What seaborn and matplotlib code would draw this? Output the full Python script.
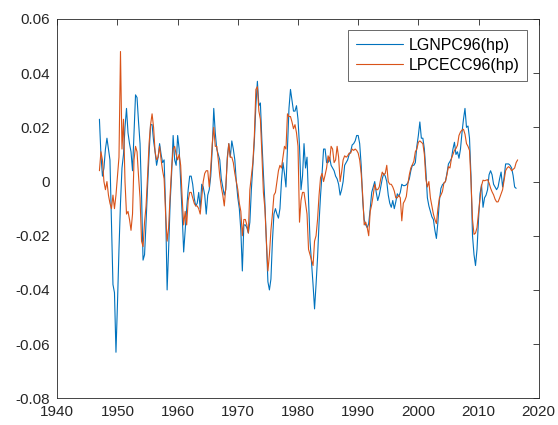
import numpy as np
import pandas as pd
import matplotlib
matplotlib.use("Agg")
import matplotlib.pyplot as plt
import seaborn as sns

# ---------------- data (quarterly, starting 1947Q1, values x 1e-3) ----------------
start_year = 1947
series_names = ["LGNPC96(hp)", "LPCECC96(hp)"]

lgnpc96_hp = [
    23, 10, 2, 5,            # 1947
    12, 16, 12, 8,           # 1948
    -15, -38, -41, -63,      # 1949
    -45, -25, -8, 5,         # 1950
    10, 20, 27, 18,          # 1951
    14, 11, 4, 18,           # 1952
    32, 31, 22, 14,          # 1953
    -5, -29, -27, -15,       # 1954
    -2, 10, 21, 21,          # 1955
    15, 11, 6, 9,            # 1956
    14, 10, 7, 8,            # 1957
    -10, -40, -25, -8,       # 1958
    3, 17, 8, 6,             # 1959
    17, 12, 0, -12,          # 1960
    -26, -18, -10, -3,       # 1961
    2, 2, -1, -6,            # 1962
    -9, -8, -4, -10,         # 1963
    -1, -2, -5, -12,         # 1964
    -5, -3, 2, 12,           # 1965
    27, 18, 12, 10,          # 1966
    8, 1, -2, -5,            # 1967
    -3, 9, 14, 9,            # 1968
    15, 12, 8, 0,            # 1969
    -6, -10, -18, -33,       # 1970
    -16, -16, -17, -19,      # 1971
    -15, -3, 6, 15,          # 1972
    28, 37, 28, 29,          # 1973
    15, 3, -8, -22,          # 1974
    -37, -40, -36, -22,      # 1975
    -12, -10, -12, -13.5,    # 1976
    -10, 0, 7, 3,            # 1977
    -2, 13, 27, 34,          # 1978
    30, 26, 26, 28,          # 1979
    23, 13, -3, 2,           # 1980
    14, 5, 9, -6,            # 1981
    -22, -30, -38, -47,      # 1982
    -38, -28, -15, -5,       # 1983
    3, 12, 12, 7,            # 1984
    7, 9, 6, 5,              # 1985
    4, 2, 1, -1,             # 1986
    -5, -3, 0, 6,            # 1987
    7, 8, 10, 11,            # 1988
    13.5, 14, 15, 17,        # 1989
    17, 14, 6, -7,           # 1990
    -14, -16, -17, -15.5,    # 1991
    -10, -4, -2, 0,          # 1992
    -4, -7, -5, -2,          # 1993
    1, 3, 2, 0,              # 1994
    -5, -8, -9.5, -7,        # 1995
    -10, -7.5, -4.5, -5.5,   # 1996
    -4, -1, -1.5, -1.5,      # 1997
    -1.2, -0.5, 1, 4,        # 1998
    6, 6, 7, 13,             # 1999
    17, 22, 16, 16,          # 2000
    12, 4, -6, -9,           # 2001
    -11, -13, -14, -18,      # 2002
    -21, -15, -7, -2.5,      # 2003
    -1.2, -0.6, 0, 3,        # 2004
    6.5, 7.4, 8.5, 12,       # 2005
    14.5, 10, 11, 8.6,       # 2006
    12, 18, 23, 27,          # 2007
    20, 20.5, 16, 2,         # 2008
    -20, -27, -31, -25,      # 2009
    -14, -4.5, -1.2, -9.5,   # 2010
    -6, -5, -3, 2.5,         # 2011
    4, 2.5, -1, -2,          # 2012
    -3, -2, 1, 3.5,          # 2013
    -2, 1.5, 6.5, 6.5,       # 2014
    6.5, 6, 5, 2.2,          # 2015
    -2, -2.5,                # 2016
]

lpcecc96_hp = [
    4, 11, 8, 0,             # 1947
    -3, 0, -5, -8,           # 1948
    -10, -5, -10, -5,        # 1949
    2, 9, 48, 12,            # 1950
    23, 0, -12, -11,         # 1951
    -14, -18, -12, 8,        # 1952
    13, 11, 2, -6,           # 1953
    -22, -24, -15, -9,       # 1954
    2, 14, 21, 25,           # 1955
    20, 11, 8, 9,            # 1956
    13, 8, 4, 1,             # 1957
    -12, -22, -17, -5,       # 1958
    5, 12, 13, 10,           # 1959
    8, 10, 6, -6,            # 1960
    -16, -11, -16, -7,       # 1961
    -4, -4, -6, -8,          # 1962
    -9, -9, -10, -12,        # 1963
    -6, 0, 3, 4,             # 1964
    4, -2, 5, 14,            # 1965
    20, 13, 13, 8,           # 1966
    2, -2, -5, -9,           # 1967
    -2, 8, 14, 9,            # 1968
    9, 7, 3, 0,              # 1969
    -3, -8, -11, -20,        # 1970
    -14, -14, -16, -19,      # 1971
    -3, 2, 7, 17,            # 1972
    34, 35, 26, 23,          # 1973
    10, -4, -10, -22,        # 1974
    -33, -27, -18, -12,      # 1975
    -5, -4, 0, 4,            # 1976
    6, 5, 9, 13,             # 1977
    12, 25, 24, 24,          # 1978
    22, 19.5, 21, 18,        # 1979
    13, -15, -7, -4,         # 1980
    -4, -8, -12, -25,        # 1981
    -27, -29, -31, -22,      # 1982
    -20, -14, -5, 1.5,       # 1983
    3, 0, 2.4, 5,            # 1984
    9.5, 7.5, 13, 12,        # 1985
    7, 8, 13, 9,             # 1986
    0, 3.5, 8, 9.5,          # 1987
    9, 9.5, 10.5, 10.5,      # 1988
    12, 11.5, 12, 11.5,      # 1989
    10.5, 8, 3, -5,          # 1990
    -16, -15, -17, -20,      # 1991
    -11, -8.5, -5, -1,       # 1992
    -3, -3, -2, 1,           # 1993
    3.5, 2.4, 3, 6,          # 1994
    0, -1, -1, -2,           # 1995
    -3.5, -6, -6, -5,        # 1996
    -6, -14.5, -8, -7,       # 1997
    -5.5, -1, 2.5, 5,        # 1998
    6.2, 7.5, 11, 12,        # 1999
    14.5, 15, 14.5, 14,      # 2000
    10, 1, -2, 0,            # 2001
    -6, -9, -12, -14,        # 2002
    -15.5, -10, -6, -5,      # 2003
    -3.7, -0.5, 0, 2.5,      # 2004
    5.5, 5, 8.5, 10,         # 2005
    11.5, 12.2, 13.4, 17,    # 2006
    18.3, 19, 19.3, 17.5,    # 2007
    14, 13, 11.5, 0,         # 2008
    -14, -19.5, -19, -17,    # 2009
    -11.5, -6.5, -1.5, 0.5,  # 2010
    0.3, 0.5, 0.7, -0.5,     # 2011
    -2.4, -3.8, -4.9, -6.5,  # 2012
    -7.5, -7.5, -6.1, -4.5,  # 2013
    -3, 0.5, 4, 5,           # 2014
    5.5, 5, 4, 4.5,          # 2015
    5, 7, 8,                 # 2016
]

x_ticks = [1940, 1950, 1960, 1970, 1980, 1990, 2000, 2010, 2020]
y_ticks = [-0.08, -0.06, -0.04, -0.02, 0, 0.02, 0.04, 0.06]
y_tick_labels = ["-0.08", "-0.06", "-0.04", "-0.02", "0", "0.02", "0.04", "0.06"]
line_colors = ["#0072BD", "#D95319"]

# ---------------- build long table ----------------
frames = []
for name, vals in zip(series_names, [lgnpc96_hp, lpcecc96_hp]):
    v = np.asarray(vals, dtype=float) / 1000.0
    t = start_year + np.arange(len(v)) / 4.0
    frames.append(pd.DataFrame({"date": t, "value": v, "series": name}))
df = pd.concat(frames, ignore_index=True)

# ---------------- style ----------------
sns.set_theme(style="white")
plt.rcParams["font.family"] = ["Liberation Sans", "DejaVu Sans"]
plt.rcParams["axes.unicode_minus"] = False

axis_col = "#262626"
fig = plt.figure(figsize=(5.58, 4.25), dpi=100)
ax = fig.add_axes([57.3 / 558, 1 - 398.3 / 425, (538.7 - 57.3) / 558, (398.3 - 19) / 425])

sns.lineplot(data=df, x="date", y="value", hue="series", palette=line_colors,
             linewidth=0.8, estimator=None, sort=False, legend=False, ax=ax)

ax.set_xlim(1940, 2020)
ax.set_ylim(-0.08, 0.06)
ax.set_xticks(x_ticks)
ax.set_xticklabels([str(x) for x in x_ticks])
ax.set_yticks(y_ticks)
ax.set_yticklabels(y_tick_labels)
ax.set_xlabel("")
ax.set_ylabel("")

for s in ax.spines.values():
    s.set_visible(True)
    s.set_linewidth(0.6)
    s.set_color(axis_col)
ax.tick_params(direction="in", top=True, right=True, length=4, width=0.6,
               color=axis_col, labelcolor=axis_col, labelsize=11, pad=5)

leg = ax.legend(ax.lines[:2], series_names, loc="upper right",
                bbox_to_anchor=(0.976, 0.971), borderaxespad=0,
                fancybox=False, frameon=True, edgecolor=axis_col,
                fontsize=11.5, handlelength=2.9, handletextpad=0.35,
                labelspacing=0.3, borderpad=0.5)
leg.get_frame().set_linewidth(0.6)
for t in leg.get_texts():
    t.set_color("black")

fig.savefig("out.png", dpi=100)
